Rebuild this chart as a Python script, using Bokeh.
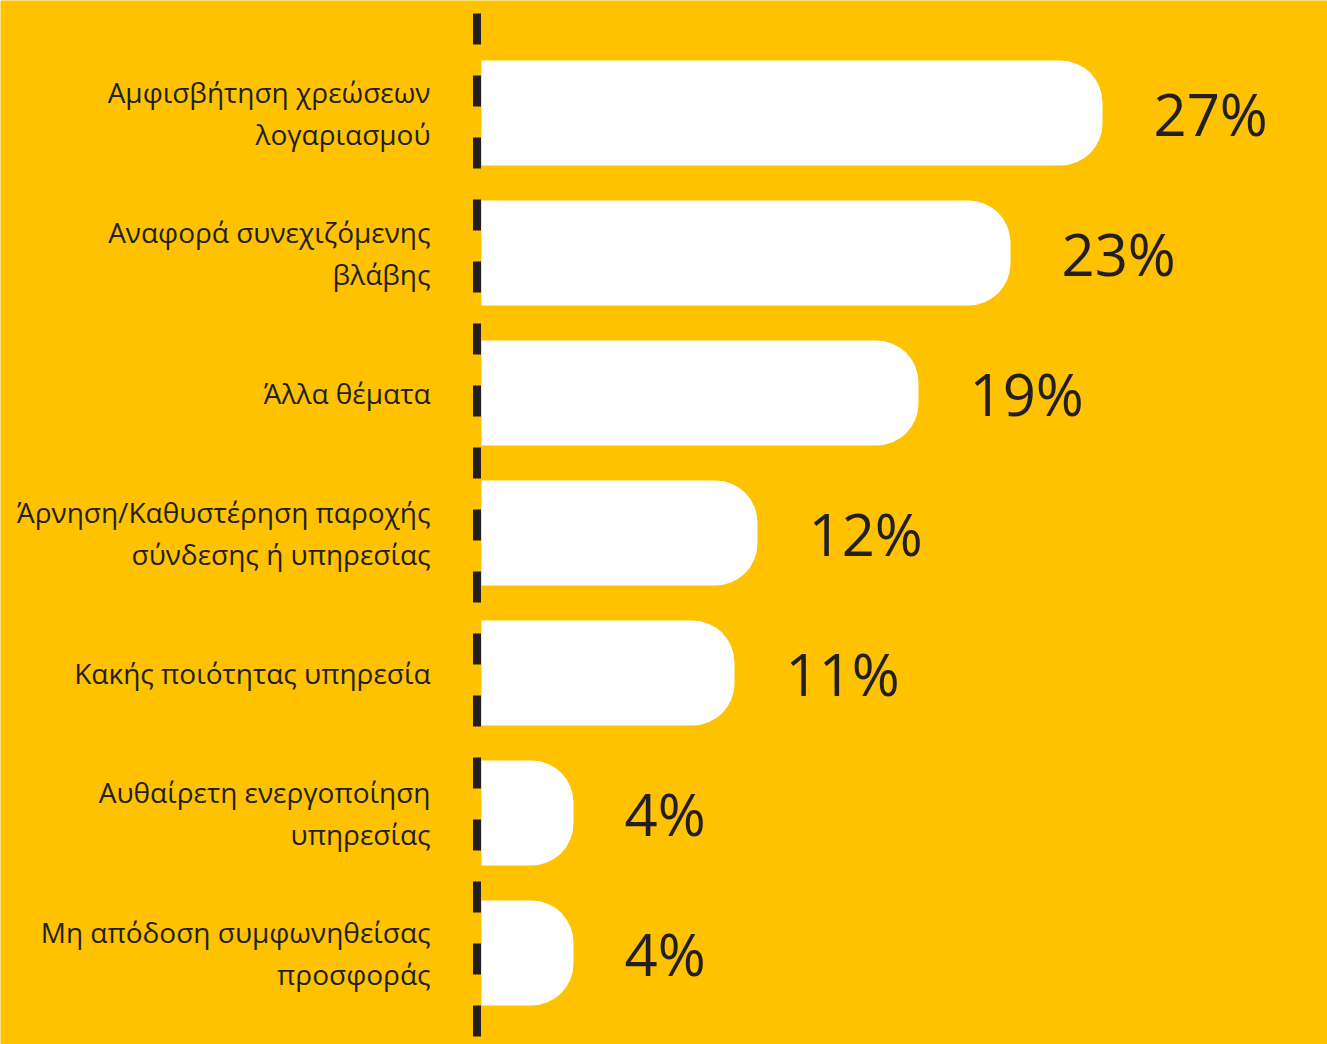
from bokeh.plotting import figure
from bokeh.models import Range1d, ColumnDataSource
from bokeh.core.properties import value
from bokeh.embed import file_html
from bokeh.resources import INLINE

# ---- data ----
categories = [
    "Αμφισβήτηση χρεώσεων\nλογαριασμού",
    "Αναφορά συνεχιζόμενης\nβλάβης",
    "Άλλα θέματα",
    "Άρνηση/Καθυστέρηση παροχής\nσύνδεσης ή υπηρεσίας",
    "Κακής ποιότητας υπηρεσία",
    "Αυθαίρετη ενεργοποίηση\nυπηρεσίας",
    "Μη απόδοση συμφωνηθείσας\nπροσφοράς",
]
values = [27, 23, 19, 12, 11, 4, 4]
value_labels = [f"{v}%" for v in values]

# ---- styling / layout ----
BG = "#FFC200"
INK = "#231F20"
W, H = 1327, 1044
PX_PER_UNIT = 23.0       # horizontal pixels per percentage point
ORIGIN_PX = 481          # pixel where bars start
ROW_PX = 140             # vertical pixels per row
FIRST_ROW_PX = 112.5     # centre of first row from top

idx = list(range(len(values)))
src = ColumnDataSource(dict(y=idx, v=values, cat=categories, lab=value_labels))

p = figure(width=W, height=H, output_backend="svg", toolbar_location=None,
           x_range=Range1d(-ORIGIN_PX / PX_PER_UNIT, (W - ORIGIN_PX) / PX_PER_UNIT),
           y_range=Range1d((H - FIRST_ROW_PX) / ROW_PX, -FIRST_ROW_PX / ROW_PX),
           min_border=0, min_border_left=0, min_border_right=0,
           min_border_top=0, min_border_bottom=0)
p.background_fill_color = BG
p.border_fill_color = BG
p.outline_line_color = None
p.axis.visible = False
p.grid.visible = False

p.hbar(y="y", left=0, right="v", height=0.75, source=src,
       fill_color="white", line_color=None, border_radius=(0, 42, 42, 0))

# dashed vertical baseline
axis_x = -4.5 / PX_PER_UNIT
p.segment(x0=[axis_x], x1=[axis_x], y0=[p.y_range.end], y1=[p.y_range.start],
          line_color=INK, line_width=8, line_dash="31 31", line_dash_offset=49,
          line_cap="butt")

p.text(x=0, y="y", text="cat", source=src, x_offset=-51,
       text_align="right", text_baseline="middle",
       text_font=value("Open Sans"), text_font_size="28px",
       text_color=INK, text_line_height=1.13)

p.text(x="v", y="y", text="lab", source=src, x_offset=51,
       text_align="left", text_baseline="middle",
       text_font=value("Open Sans"), text_font_size="58px",
       text_color=INK)

open("out.html", "w").write(file_html(p, INLINE))
